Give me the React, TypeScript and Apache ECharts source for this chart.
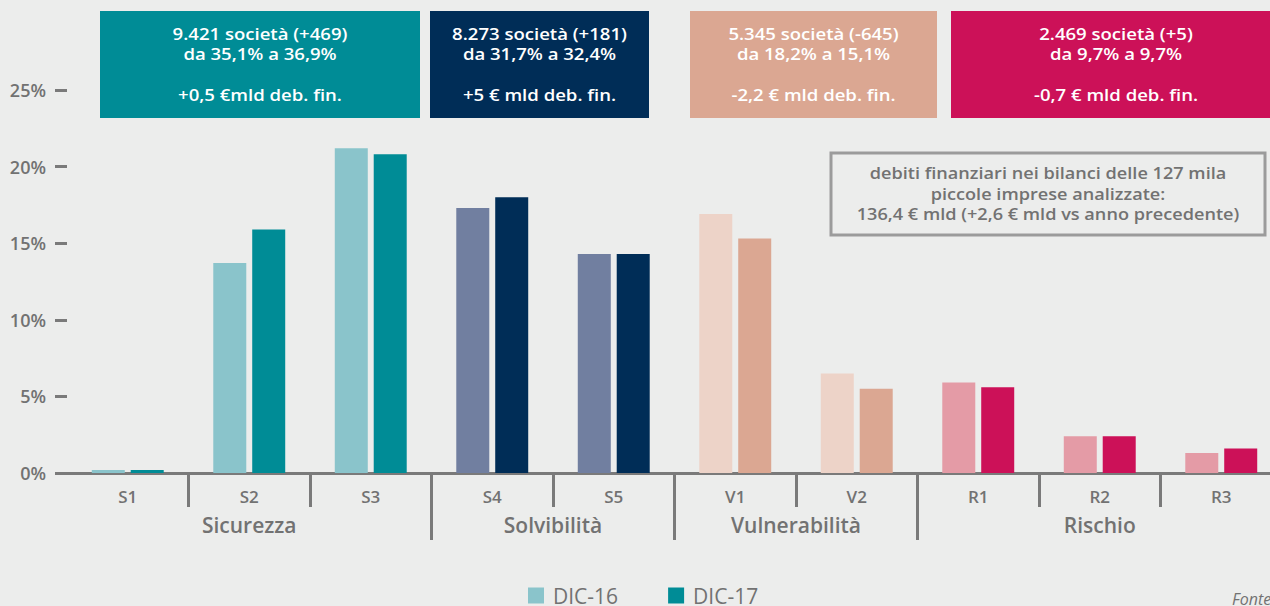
import React, { useEffect, useRef } from 'react';
import * as echarts from 'echarts';

const categories = ['S1', 'S2', 'S3', 'S4', 'S5', 'V1', 'V2', 'R1', 'R2', 'R3'];
const groupNames = ['Sicurezza', 'Solvibilità', 'Vulnerabilità', 'Rischio'];
const groupOfCategory = [0, 0, 0, 1, 1, 2, 2, 3, 3, 3];
const seriesNames = ['DIC-16', 'DIC-17'];
const dic16 = [0.2, 13.7, 21.2, 17.3, 14.3, 16.9, 6.5, 5.9, 2.4, 1.3];
const dic17 = [0.2, 15.9, 20.8, 18.0, 14.3, 15.3, 5.5, 5.6, 2.4, 1.6];
const yMax = 25;
const yStep = 5;

const boxTexts = [
  ['9.421 società (+469)', 'da 35,1% a 36,9%', '', '+0,5 €mld deb. fin.'],
  ['8.273 società (+181)', 'da 31,7% a 32,4%', '', '+5 € mld deb. fin.'],
  ['5.345 società (-645)', 'da 18,2% a 15,1%', '', '-2,2 € mld deb. fin.'],
  ['2.469 società (+5)', 'da 9,7% a 9,7%', '', '-0,7 € mld deb. fin.'],
];
const noteLines = [
  'debiti finanziari nei bilanci delle 127 mila',
  'piccole imprese analizzate:',
  '136,4 € mld (+2,6 € mld vs anno precedente)',
];

// styles
const lightColors = ['#8AC4CB', '#717FA0', '#EDD3C8', '#E49BA6'];
const darkColors = ['#008C96', '#002D57', '#DBA792', '#CC1158'];
const boxRects = [
  [100, 11, 320, 107],
  [430, 11, 219, 107],
  [690, 11, 247, 107],
  [951, 11, 330, 107],
];
const FONT = '"Open Sans", "Noto Sans", sans-serif';
const GREY = '#727272';
const AXIS = '#7a7a7a';
const BG = '#ECEDEC';

export default function App() {
  const ref = useRef<HTMLDivElement>(null);
  useEffect(() => {
    if (!ref.current) return;
    const chart = echarts.init(ref.current, undefined, { renderer: 'svg' });

    const groupStarts: number[] = [];
    const groupCenters: Record<string, string> = {};
    groupNames.forEach((g, gi) => {
      const idx = groupOfCategory.map((v, i) => (v === gi ? i : -1)).filter((i) => i >= 0);
      const first = idx[0];
      const last = idx[idx.length - 1] + 1;
      if (gi > 0) groupStarts.push(first);
      groupCenters[String((first + last) / 2)] = g;
    });

    const graphic: any[] = [];
    boxRects.forEach((r, i) => {
      graphic.push({
        type: 'rect',
        shape: { x: r[0], y: r[1], width: r[2], height: r[3] },
        style: { fill: darkColors[i] },
        silent: true,
      });
      graphic.push({
        type: 'text',
        x: r[0] + r[2] / 2,
        y: 23,
        scaleX: 1.16,
        style: {
          text: boxTexts[i].join('\n'),
          fill: '#ffffff',
          font: `600 16px ${FONT}`,
          lineHeight: 20.5,
          align: 'center',
          verticalAlign: 'top',
        },
        silent: true,
      });
    });
    graphic.push({
      type: 'rect',
      shape: { x: 831, y: 153, width: 434, height: 82 },
      style: { fill: 'none', stroke: '#9b9b9b', lineWidth: 3 },
      silent: true,
    });
    graphic.push({
      type: 'text',
      x: 1048,
      y: 163,
      scaleX: 1.17,
      style: {
        text: noteLines.join('\n'),
        fill: GREY,
        font: `600 15.5px ${FONT}`,
        lineHeight: 20.5,
        align: 'center',
        verticalAlign: 'top',
      },
      silent: true,
    });
    graphic.push({
      type: 'text',
      x: 1232,
      y: 591,
      style: {
        text: 'Fonte:',
        fill: GREY,
        font: `italic 16px ${FONT}`,
        align: 'left',
        verticalAlign: 'top',
      },
      silent: true,
    });

    const makeData = (vals: number[], colors: string[]) =>
      vals.map((v, i) => ({ value: v, itemStyle: { color: colors[groupOfCategory[i]] } }));

    chart.setOption({
      animation: false,
      backgroundColor: BG,
      textStyle: { fontFamily: FONT },
      grid: { left: 67, top: 90, width: 1215, height: 383, containLabel: false },
      legend: {
        data: seriesNames,
        left: 528,
        top: 585,
        padding: 0,
        icon: 'rect',
        itemWidth: 16,
        itemHeight: 16,
        itemGap: 50,
        textStyle: { color: GREY, fontSize: 21, fontFamily: FONT, padding: [0, 0, 0, 4] },
        selectedMode: false,
      },
      xAxis: [
        {
          type: 'category',
          data: categories,
          position: 'bottom',
          axisLine: { show: true, lineStyle: { color: AXIS, width: 3 } },
          axisTick: {
            show: true,
            length: 34,
            lineStyle: { color: AXIS, width: 3 },
            interval: (i: number) => i !== 0,
          },
          axisLabel: { margin: 15, fontSize: 17, fontWeight: 600, color: GREY, fontFamily: FONT },
          splitLine: { show: false },
        },
        {
          type: 'category',
          data: categories,
          position: 'bottom',
          offset: 0,
          axisLine: { show: false },
          axisTick: {
            show: true,
            length: 67,
            lineStyle: { color: AXIS, width: 3 },
            interval: (i: number) => groupStarts.indexOf(i) >= 0,
          },
          axisLabel: { show: false },
          splitLine: { show: false },
        },
        {
          type: 'value',
          min: 0,
          max: categories.length,
          interval: 0.5,
          position: 'bottom',
          offset: 0,
          axisLine: { show: false },
          axisTick: { show: false },
          splitLine: { show: false },
          axisLabel: {
            margin: 41,
            fontSize: 21,
            fontWeight: 600,
            color: GREY,
            fontFamily: FONT,
            showMinLabel: false,
            showMaxLabel: false,
            formatter: (v: number) => groupCenters[String(v)] || '',
          },
        },
      ],
      yAxis: {
        type: 'value',
        min: 0,
        max: yMax,
        interval: yStep,
        axisLine: { show: false },
        axisTick: { show: true, length: 12, lineStyle: { color: AXIS, width: 3 } },
        splitLine: { show: false },
        axisLabel: {
          margin: 21,
          fontSize: 18,
          fontWeight: 600,
          color: GREY,
          fontFamily: FONT,
          formatter: '{value}%',
        },
      },
      series: [
        {
          name: seriesNames[0],
          type: 'bar',
          xAxisIndex: 0,
          barWidth: 33,
          barGap: '18%',
          itemStyle: { color: lightColors[0] },
          data: makeData(dic16, lightColors),
        },
        {
          name: seriesNames[1],
          type: 'bar',
          xAxisIndex: 0,
          barWidth: 33,
          barGap: '18%',
          itemStyle: { color: darkColors[0] },
          data: makeData(dic17, darkColors),
        },
      ],
      graphic,
    });
    return () => chart.dispose();
  }, []);
  return (
    <div
      style={{
        position: 'fixed',
        left: 0,
        top: 0,
        width: 1270,
        height: 606,
        overflow: 'hidden',
        background: BG,
      }}
    >
      <div ref={ref} style={{ width: 1300, height: 606 }} />
    </div>
  );
}
